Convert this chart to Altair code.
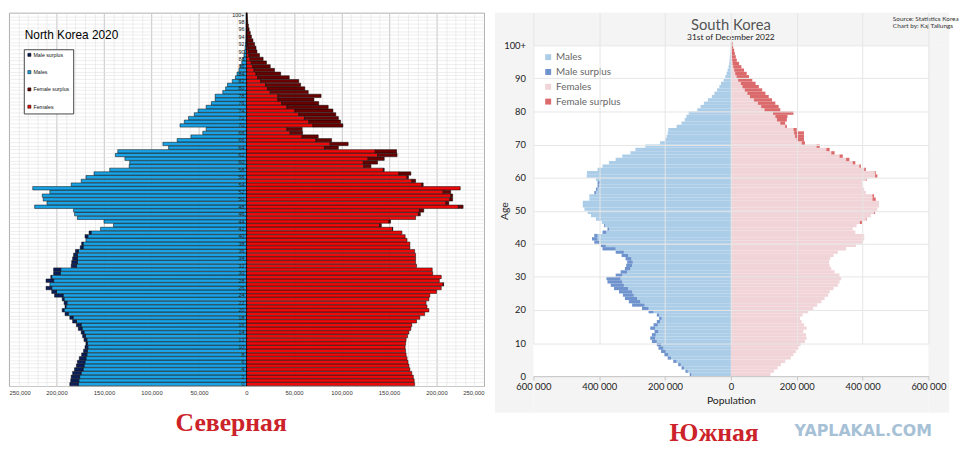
import altair as alt
import pandas as pd

AGES = list(range(101))

# North Korea 2020, population by single year of age (thousands)
NK_MALE = [186, 185, 184.5, 183, 181, 179, 178, 176, 173.5, 171.5,
           170, 169, 171, 172.5, 174, 177, 179, 183, 186, 191,
           194, 191, 192, 194, 202, 205, 211, 207, 211, 206,
           203, 203, 184.5, 184, 183, 182, 180, 175, 173.5, 169,
           170, 165.7, 153.7, 140, 150, 178, 181, 182, 223, 210,
           214, 215, 207, 225, 184.5, 174, 169, 160.5, 144, 123.5,
           123, 128, 138, 135.5, 82, 88, 73, 58.5, 46, 42.5,
           70, 65.5, 61, 55, 51, 42.5, 37, 33, 33, 25,
           22, 20, 15, 11.7, 10, 8, 6.5, 5, 3.8, 2.7,
           2, 1.5, 1, 0.7, 0.5, 0.35, 0.25, 0.15, 0.1, 0.07,
           0.05]
NK_FEMALE = [177, 176.5, 175.6, 174, 172, 171, 170, 169, 168, 167.5,
             167, 167.5, 168, 169.5, 171, 173, 174, 179, 182.5, 187.6,
             192, 190, 189, 192, 193, 200, 205, 207.5, 203, 205,
             196, 195.5, 179, 178, 178, 178, 177, 172, 172, 169,
             167, 163.6, 154, 142, 151.6, 178, 183, 186.6, 228, 213,
             217, 217, 215, 225, 186, 178, 170.5, 173, 145, 131,
             138, 145, 158.5, 158, 96.7, 107, 89.5, 75.5, 59, 58.6,
             101.5, 99, 96.7, 94, 91, 86, 76, 71, 78.5, 65,
             61.4, 57, 55, 45, 36, 29.5, 25, 21, 17.5, 13.7,
             11, 10, 8.5, 6.8, 5.2, 4, 2.8, 2, 1.3, 0.9,
             0.7]

# South Korea, 31 Dec 2022 (thousands)
SK_MALE = [125, 138, 150, 160, 175, 192, 202, 212, 220, 225,
           240, 245, 240, 232, 245, 235, 225, 218, 225, 250,
           270, 300, 310, 322, 328, 340, 355, 365, 375, 378,
           350, 335, 322, 318, 315, 320, 332, 350, 390, 395,
           415, 422, 415, 390, 375, 385, 392, 410, 425, 435,
           445, 450, 450, 430, 430, 415, 410, 405, 405, 410,
           438, 437, 405, 390, 370, 350, 330, 305, 290, 260,
           215, 200, 195, 192, 190, 165, 150, 140, 135, 128,
           102, 92, 82, 70, 58, 50, 42, 35, 30, 22,
           17, 13, 10, 7, 5, 4, 3, 2, 1, 0.5,
           0.3]
SK_FEMALE = [120, 131, 142, 152, 165, 182, 190, 198, 205, 212,
             225, 230, 228, 220, 230, 222, 215, 210, 218, 235,
             250, 262, 275, 285, 295, 300, 312, 325, 330, 335,
             330, 315, 305, 300, 298, 302, 312, 325, 350, 380,
             400, 405, 405, 378, 370, 382, 398, 412, 425, 438,
             445, 450, 450, 440, 435, 410, 405, 400, 398, 412,
             445, 440, 410, 395, 378, 360, 340, 315, 300, 270,
             225, 222, 222, 222, 200, 170, 165, 170, 172, 190,
             150, 145, 135, 125, 115, 105, 95, 85, 75, 65,
             55, 48, 40, 32, 25, 18, 15, 12, 10, 7,
             5]

NK_CATS = ["Male surplus", "Males", "Female surplus", "Females"]
NK_COLORS = ["#0b1f5c", "#1aa3e6", "#6b0000", "#ee0a0a"]
SK_CATS = ["Males", "Male surplus", "Females", "Female surplus"]
SK_COLORS = ["#abcde8", "#6f93cd", "#f1d4d7", "#db6a6c"]

NK_AGE_TICKS = list(range(0, 101, 2))
NK_AGE_LABELS = [str(a) if a < 100 else "100+" for a in NK_AGE_TICKS]

NK_TITLE = "North Korea 2020"
SK_TITLE = "South Korea"
SK_SUBTITLE = "31st of December 2022"
SK_SOURCE = "Source: Statistics Korea"
SK_AUTHOR = "Chart by: Kaj Tallungs"
CAPTION_N = "Северная"
CAPTION_S = "Южная"
WATERMARK = "YAPLAKAL.COM"


def build(male, female, c_m, c_ms, c_f, c_fs):
    rows = []
    for a, mv, fv in zip(AGES, male, female):
        mv *= 1000
        fv *= 1000
        base = min(mv, fv)
        rows.append({"age": a, "age2": a + 1, "cat": c_m, "x1": -base, "x2": 0})
        if mv > fv:
            rows.append({"age": a, "age2": a + 1, "cat": c_ms, "x1": -mv, "x2": -base})
        rows.append({"age": a, "age2": a + 1, "cat": c_f, "x1": 0, "x2": base})
        if fv > mv:
            rows.append({"age": a, "age2": a + 1, "cat": c_fs, "x1": base, "x2": fv})
    return pd.DataFrame(rows)


nk_df = build(NK_MALE, NK_FEMALE, "Males", "Male surplus", "Females", "Female surplus")
sk_df = build(SK_MALE, SK_FEMALE, "Males", "Male surplus", "Females", "Female surplus")


def txt(s):
    return pd.DataFrame({"t": [s]})


def label(s, x, y, size, color="#222", align="center", font="Lato", weight="normal"):
    return alt.Chart(txt(s)).mark_text(
        align=align, baseline="middle", fontSize=size, font=font, color=color,
        fontWeight=weight
    ).encode(x=alt.value(x), y=alt.value(y), text="t:N")


# ---------------- North Korea panel ----------------
W1, H1 = 481, 378

nk_x = alt.X(
    "x1:Q",
    scale=alt.Scale(domain=[-250000, 250000], nice=False, zero=False),
    axis=alt.Axis(
        orient="bottom",
        values=list(range(-250000, 250001, 50000)),
        labelExpr="format(abs(datum.value), ',')",
        labelOverlap=False, labelFlush=True, ticks=False, domain=False, title=None,
        grid=True, gridColor="#b5b5b5", gridWidth=0.8,
        labelFontSize=6, labelFont="Liberation Sans", labelColor="#333", labelPadding=4,
    ),
)
nk_y = alt.Y(
    "age:O",
    scale=alt.Scale(domain=list(range(100, -1, -1)), paddingInner=0.1, paddingOuter=0.05),
    axis=alt.Axis(labels=False, ticks=False, domain=False, title=None, grid=True,
                  tickBand="extent", gridColor="#e2e2e2", gridWidth=0.6),
)

nk_bars = alt.Chart(nk_df).mark_bar(stroke="black", strokeWidth=0.5).encode(
    x=nk_x, x2="x2:Q", y=nk_y,
    color=alt.Color(
        "cat:N", scale=alt.Scale(domain=NK_CATS, range=NK_COLORS),
        legend=alt.Legend(orient="none", legendX=15, legendY=37, title=None,
                          strokeColor="#444", fillColor="white", padding=3, rowPadding=11.5,
                          labelFontSize=5.3, labelFont="Liberation Sans", labelColor="#111",
                          symbolType="square", symbolSize=10, symbolStrokeColor="black",
                          symbolStrokeWidth=0.5, labelOffset=1.5),
    ),
)
minor_vals = [v for v in range(-250000, 250001, 10000) if v % 50000 != 0]
nk_rule = alt.Chart(pd.DataFrame({"v": [0]})).mark_rule(color="black", strokeWidth=1.5).encode(
    x=alt.X("v:Q", axis=alt.Axis(orient="top", values=minor_vals, labels=False, ticks=False,
                                 domain=False, title=None, grid=True, gridColor="#e2e2e2",
                                 gridWidth=0.6, minExtent=0, maxExtent=0, offset=0)))
nk_labels = alt.Chart(pd.DataFrame({"age": NK_AGE_TICKS, "lab": NK_AGE_LABELS,
                                    "zero": [0] * len(NK_AGE_TICKS)})).mark_text(
    align="right", baseline="middle", dx=-2, fontSize=5.5, font="Liberation Sans", color="#222"
).encode(x=alt.X("zero:Q", axis=None), y=alt.Y("age:O"), text="lab:N")
nk_title = label(NK_TITLE, 16, 23, 12, color="black", align="left", font="Liberation Sans")
nk_caption = label(CAPTION_N, 225, 416, 26, color="#cc2229", font="Liberation Serif",
                   weight="bold")

nk = alt.layer(nk_rule, nk_bars, nk_labels, nk_title, nk_caption).resolve_axis(
    x="independent"
).properties(width=W1, height=H1,
             view=alt.ViewBackground(stroke="#a0a0a0", strokeWidth=1, fill="white"))

# ---------------- South Korea panel ----------------
W2 = 400
TOP = 33          # grey strip above the plot area (title zone)
PH = 335          # plot-area height
H2 = TOP + PH     # view height
one = pd.DataFrame({"k": [0]})


def strip(x0, x1, y0, y1):
    return alt.Chart(one).mark_rect(color="#f4f4f4").encode(
        x=alt.value(x0), x2=alt.value(x1), y=alt.value(y0), y2=alt.value(y1))


sk_strips = [strip(-39, W2 + 21, 0, TOP), strip(-39, 0, TOP, H2 + 37),
             strip(W2, W2 + 21, TOP, H2 + 37), strip(0, W2, H2, H2 + 37)]

sk_x = alt.X(
    "x1:Q",
    scale=alt.Scale(domain=[-600000, 600000], nice=False),
    axis=alt.Axis(
        values=list(range(-600000, 600001, 200000)),
        labelExpr="replace(format(abs(datum.value), ','), ',', ' ')",
        labelFlush=False, labelOverlap=False, title="Population", grid=True,
        gridColor="#e6e6e6", domainColor="#c6c6c6", tickColor="#c6c6c6", tickSize=4,
        labelPadding=2, labelFontSize=9.5, labelFont="Lato", labelColor="#222",
        titleFont="Lato", titleFontSize=10.5, titleFontWeight="normal", titleColor="#222",
        titlePadding=4, zindex=1,
    ),
)
sk_y = alt.Y(
    "age:Q",
    scale=alt.Scale(domain=[0, 100], nice=False, range=[H2, TOP]),
    axis=alt.Axis(
        values=list(range(0, 101, 10)),
        labelExpr="datum.value == 100 ? '100+' : datum.label",
        title="Age", grid=True, gridColor="#e6e6e6", domain=False, ticks=False,
        labelPadding=8, labelFontSize=9.5, labelFont="Lato", labelColor="#222",
        titleFont="Lato", titleFontSize=10.5, titleFontWeight="normal", titleColor="#222",
        titleX=-29, titleY=TOP + PH / 2, titleAngle=270, titleAlign="center",
        titleBaseline="middle", zindex=1,
    ),
)
sk_bars = alt.Chart(sk_df).mark_bar().encode(
    x=sk_x, x2="x2:Q", y=sk_y, y2="age2:Q",
    color=alt.Color(
        "cat:N", scale=alt.Scale(domain=SK_CATS, range=SK_COLORS),
        legend=alt.Legend(orient="none", legendX=10, legendY=TOP + 7, title=None,
                          symbolType="square", symbolSize=36, symbolStrokeWidth=0,
                          labelFontSize=10, labelFont="Lato", labelColor="#666",
                          rowPadding=5, padding=0, labelOffset=3),
    ),
)

sk_texts = [
    label(SK_TITLE, W2 / 2, 12, 15, color="#555"),
    label(SK_SUBTITLE, W2 / 2, 25, 8.5),
    label(SK_SOURCE, 364, 6, 6.5, color="#333", align="left"),
    label(SK_AUTHOR, 364, 13, 6.5, color="#333", align="left"),
    label(CAPTION_S, 183, 426, 26, color="#cc2229", font="Liberation Serif", weight="bold"),
    label(WATERMARK, 334, 424, 16, color="#a6c1d6", font="DejaVu Sans", weight="bold"),
]

sk = alt.layer(*sk_strips, sk_bars, *sk_texts).properties(
    width=W2, height=H2, view=alt.ViewBackground(stroke="transparent", fill="white"))

chart = alt.hconcat(nk, sk, spacing=50, bounds="flush").resolve_scale(
    color="independent", x="independent", y="independent"
).properties(padding=0, background="white")

chart.save("out.html", embed_options={"renderer": "svg", "actions": False})
